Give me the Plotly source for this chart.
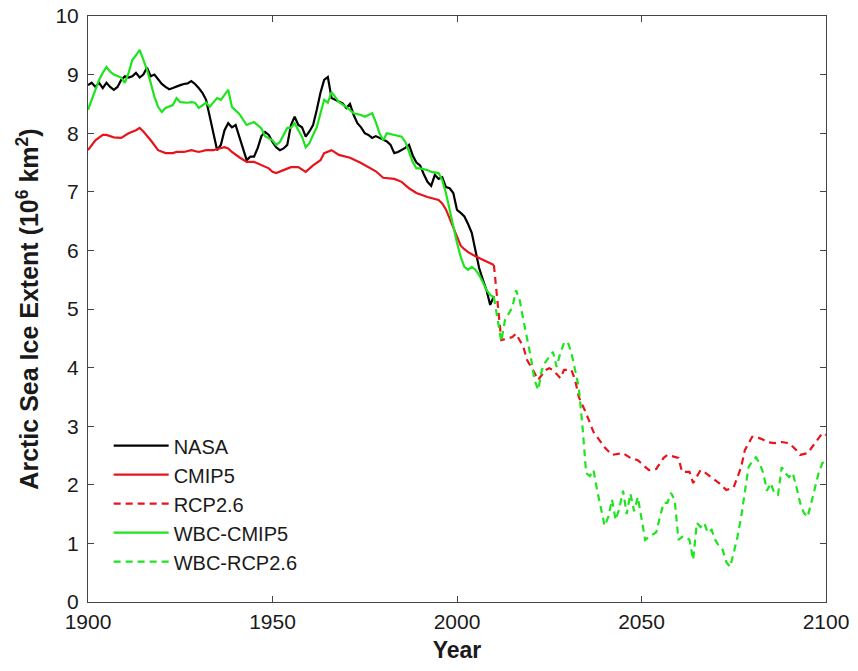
import plotly.graph_objects as go

# ---------------- data ----------------
nasa_years = list(range(1900, 2011))
nasa_vals = [8.82, 8.86, 8.79, 8.86, 8.77, 8.86, 8.79, 8.74, 8.79, 8.91,
             8.97, 8.95, 8.97, 9.03, 8.95, 9.00, 9.12, 8.97, 9.00, 8.91,
             8.84, 8.79, 8.75, 8.77, 8.80, 8.82, 8.84, 8.85, 8.89, 8.84,
             8.77, 8.69, 8.57, 8.28, 7.94, 7.71, 7.80, 8.05, 8.17, 8.10,
             8.14, 7.94, 7.75, 7.54, 7.60, 7.60, 7.75, 7.95, 8.02, 7.97,
             7.85, 7.76, 7.71, 7.74, 7.80, 8.14, 8.28, 8.14, 8.10, 7.94,
             8.03, 8.14, 8.40, 8.69, 8.91, 8.96, 8.60, 8.57, 8.55, 8.51,
             8.43, 8.50, 8.31, 8.17, 8.10, 8.00, 7.97, 7.92, 7.95, 7.92,
             7.88, 7.86, 7.80, 7.66, 7.68, 7.71, 7.75, 7.80, 7.62, 7.50,
             7.45, 7.30, 7.17, 7.10, 7.29, 7.22, 7.25, 7.08, 7.06, 6.98,
             6.69, 6.64, 6.58, 6.45, 6.30, 6.00, 5.70, 5.50, 5.32, 5.07,
             5.22]

cmip5_years = [1900, 1902, 1904, 1905, 1907, 1909, 1911, 1913, 1914, 1915,
               1917, 1919, 1921, 1923, 1924, 1926, 1928, 1930, 1932, 1934,
               1935, 1937, 1938, 1939, 1941, 1943, 1945, 1947, 1949, 1950,
               1951, 1953, 1955, 1957, 1958, 1959, 1961, 1963, 1964, 1966,
               1968, 1971, 1974, 1976, 1978, 1980, 1983, 1985, 1987, 1989,
               1992, 1995, 1996, 1997, 1998, 1999, 2000, 2001, 2002, 2003,
               2005, 2007, 2009, 2010]
cmip5_vals = [7.71, 7.88, 7.97, 7.97, 7.93, 7.92, 8.00, 8.05, 8.09, 8.03,
              7.88, 7.71, 7.66, 7.66, 7.68, 7.68, 7.71, 7.68, 7.71, 7.71,
              7.73, 7.76, 7.74, 7.68, 7.59, 7.51, 7.51, 7.46, 7.40, 7.34,
              7.32, 7.37, 7.42, 7.42, 7.38, 7.34, 7.45, 7.54, 7.66, 7.71,
              7.63, 7.58, 7.49, 7.42, 7.35, 7.24, 7.22, 7.17, 7.06, 6.98,
              6.91, 6.86, 6.80, 6.70, 6.55, 6.40, 6.22, 6.08, 6.02, 5.97,
              5.90, 5.84, 5.78, 5.75]

rcp_years = [2010, 2012, 2015, 2016, 2018, 2019, 2021, 2022, 2024, 2025,
             2026, 2028, 2029, 2031, 2032, 2033, 2035, 2037, 2040, 2042,
             2045, 2047, 2049, 2052, 2054, 2056, 2057, 2060, 2061, 2063,
             2064, 2066, 2067, 2069, 2071, 2073, 2075, 2077, 2078, 2080,
             2081, 2083, 2084, 2086, 2088, 2090, 2092, 2093, 2095, 2097,
             2099, 2100]
rcp_vals = [5.75, 4.47, 4.52, 4.58, 4.35, 4.13, 3.91, 3.79, 3.96, 3.99,
            3.96, 3.82, 3.96, 3.96, 3.79, 3.50, 3.22, 2.90, 2.64, 2.51,
            2.54, 2.46, 2.42, 2.25, 2.27, 2.46, 2.51, 2.46, 2.22, 2.22,
            2.03, 2.25, 2.22, 2.13, 2.03, 1.91, 1.96, 2.30, 2.59, 2.82,
            2.82, 2.77, 2.73, 2.71, 2.73, 2.71, 2.59, 2.51, 2.54, 2.71,
            2.88, 2.85]

wbc_years = [1900, 1901, 1902, 1903, 1904, 1905, 1906, 1907, 1909, 1910,
             1911, 1912, 1913, 1914, 1915, 1916, 1917, 1918, 1919, 1920,
             1921, 1923, 1924, 1925, 1927, 1928, 1929, 1930, 1932, 1933,
             1934, 1935, 1936, 1938, 1939, 1941, 1943, 1945, 1947, 1948,
             1950, 1951, 1952, 1953, 1954, 1955, 1956, 1957, 1958, 1959,
             1960, 1961, 1962, 1963, 1964, 1965, 1966, 1967, 1968, 1970,
             1972, 1974, 1975, 1977, 1978, 1979, 1980, 1981, 1983, 1985,
             1986, 1987, 1988, 1989, 1990, 1992, 1993, 1995, 1996, 1997,
             1998, 1999, 2000, 2001, 2002, 2003, 2004, 2005, 2006, 2007,
             2008, 2009, 2010]
wbc_vals = [8.40, 8.57, 8.74, 8.91, 9.03, 9.13, 9.05, 9.00, 8.95, 8.86,
            9.03, 9.25, 9.33, 9.42, 9.25, 9.08, 8.86, 8.62, 8.45, 8.36,
            8.43, 8.48, 8.60, 8.53, 8.52, 8.53, 8.52, 8.43, 8.52, 8.45,
            8.53, 8.60, 8.57, 8.74, 8.45, 8.33, 8.14, 8.19, 8.08, 7.95,
            7.88, 7.80, 7.85, 7.97, 8.09, 8.09, 8.17, 8.05, 7.94, 7.76,
            7.83, 7.97, 8.10, 8.34, 8.57, 8.52, 8.70, 8.62, 8.53, 8.45,
            8.34, 8.31, 8.28, 8.34, 8.19, 8.00, 7.88, 8.00, 7.97, 7.94,
            7.85, 7.68, 7.51, 7.40, 7.40, 7.37, 7.34, 7.32, 7.20, 6.98,
            6.69, 6.40, 6.13, 5.89, 5.72, 5.67, 5.72, 5.67, 5.58, 5.46,
            5.32, 5.24, 5.20]

wbc_rcp_years = [2010, 2012, 2013, 2015, 2016, 2017, 2018, 2019, 2020, 2021,
                 2022, 2023, 2024, 2025, 2026, 2027, 2028, 2029, 2030, 2031,
                 2032, 2033, 2034, 2035, 2036, 2037, 2038, 2039, 2040, 2041,
                 2042, 2043, 2044, 2045, 2046, 2047, 2048, 2049, 2050, 2051,
                 2052, 2053, 2054, 2055, 2056, 2057, 2058, 2059, 2060, 2061,
                 2062, 2063, 2064, 2065, 2066, 2067, 2068, 2069, 2070, 2071,
                 2072, 2073, 2074, 2075, 2076, 2077, 2078, 2079, 2080, 2081,
                 2082, 2083, 2084, 2085, 2086, 2087, 2088, 2089, 2090, 2091,
                 2092, 2093, 2094, 2095, 2096, 2097, 2098, 2099, 2100]
wbc_rcp_vals = [5.20, 4.45, 4.81, 5.03, 5.32, 5.15, 4.81, 4.52, 4.18, 3.79,
                3.62, 3.96, 4.10, 4.18, 4.27, 4.01, 4.25, 4.42, 4.44, 4.25,
                3.96, 3.67, 3.00, 2.20, 2.15, 2.25, 1.90, 1.60, 1.30, 1.45,
                1.75, 1.40, 1.60, 1.90, 1.50, 1.85, 1.55, 1.79, 1.40, 1.06,
                1.11, 1.15, 1.19, 1.45, 1.69, 1.69, 1.86, 1.74, 1.06, 1.11,
                1.11, 1.06, 0.72, 1.35, 1.28, 1.35, 1.18, 1.23, 1.06, 0.95,
                0.89, 0.68, 0.60, 0.84, 1.11, 1.45, 1.90, 2.30, 2.40, 2.47,
                2.37, 2.20, 1.90, 2.03, 1.86, 1.83, 2.30, 2.20, 2.13, 2.20,
                1.96, 1.69, 1.52, 1.45, 1.69, 1.96, 2.20, 2.37, 2.40]

x_ticks = [1900, 1950, 2000, 2050, 2100]
y_ticks = list(range(0, 11))

# ---------------- styles ----------------
FONT = "Liberation Sans, Arial, sans-serif"
TXT = "#1a1a1a"
BLACK = "#000000"
RED = "#e8141c"
GREEN = "#1ee41e"
DASH = "7px,5px"
LW = 2.2

fig = go.Figure()
fig.add_trace(go.Scatter(x=nasa_years, y=nasa_vals, mode="lines", name="NASA",
                         line=dict(color=BLACK, width=LW), legendgroup="a"))
fig.add_trace(go.Scatter(x=cmip5_years, y=cmip5_vals, mode="lines", name="CMIP5",
                         line=dict(color=RED, width=LW), legendgroup="b"))
fig.add_trace(go.Scatter(x=rcp_years, y=rcp_vals, mode="lines", name="RCP2.6",
                         line=dict(color=RED, width=LW, dash=DASH), legendgroup="c"))
fig.add_trace(go.Scatter(x=wbc_years, y=wbc_vals, mode="lines", name="WBC-CMIP5",
                         line=dict(color=GREEN, width=LW), legendgroup="d"))
fig.add_trace(go.Scatter(x=wbc_rcp_years, y=wbc_rcp_vals, mode="lines", name="WBC-RCP2.6",
                         line=dict(color=GREEN, width=LW, dash=DASH), legendgroup="e"))

axis_common = dict(
    showgrid=False, zeroline=False, showline=True, linecolor="#444444",
    linewidth=1, mirror="ticks", ticks="inside", ticklen=6, tickcolor="#444444",
    tickfont=dict(family=FONT, size=21, color=TXT), ticklabeloverflow="allow",
)

fig.update_xaxes(range=[1900, 2100], tickvals=x_ticks, ticktext=[str(t) for t in x_ticks],
                 ticklabelstandoff=1,
                 title=dict(text="<b>Year</b>", font=dict(size=23, color=TXT, family=FONT),
                            standoff=19),
                 **axis_common)
fig.update_yaxes(range=[0, 10], tickvals=y_ticks, ticktext=[str(t) for t in y_ticks],
                 ticklabelstandoff=4,
                 title=dict(text="<b>Arctic Sea Ice Extent (10<sup>6</sup> km<sup>2</sup>)</b>",
                            font=dict(size=25, color=TXT, family=FONT), standoff=9),
                 **axis_common)

fig.update_layout(
    width=842, height=655,
    margin=dict(l=80, r=24, t=8, b=61, autoexpand=False),
    plot_bgcolor="white", paper_bgcolor="white",
    showlegend=True,
    legend=dict(x=0.028, y=0.30, xanchor="left", yanchor="top",
                bgcolor="rgba(0,0,0,0)", borderwidth=0,
                font=dict(family=FONT, size=20, color=TXT),
                itemwidth=55, tracegroupgap=10, traceorder="normal"),
)

fig.write_html("out.html")
